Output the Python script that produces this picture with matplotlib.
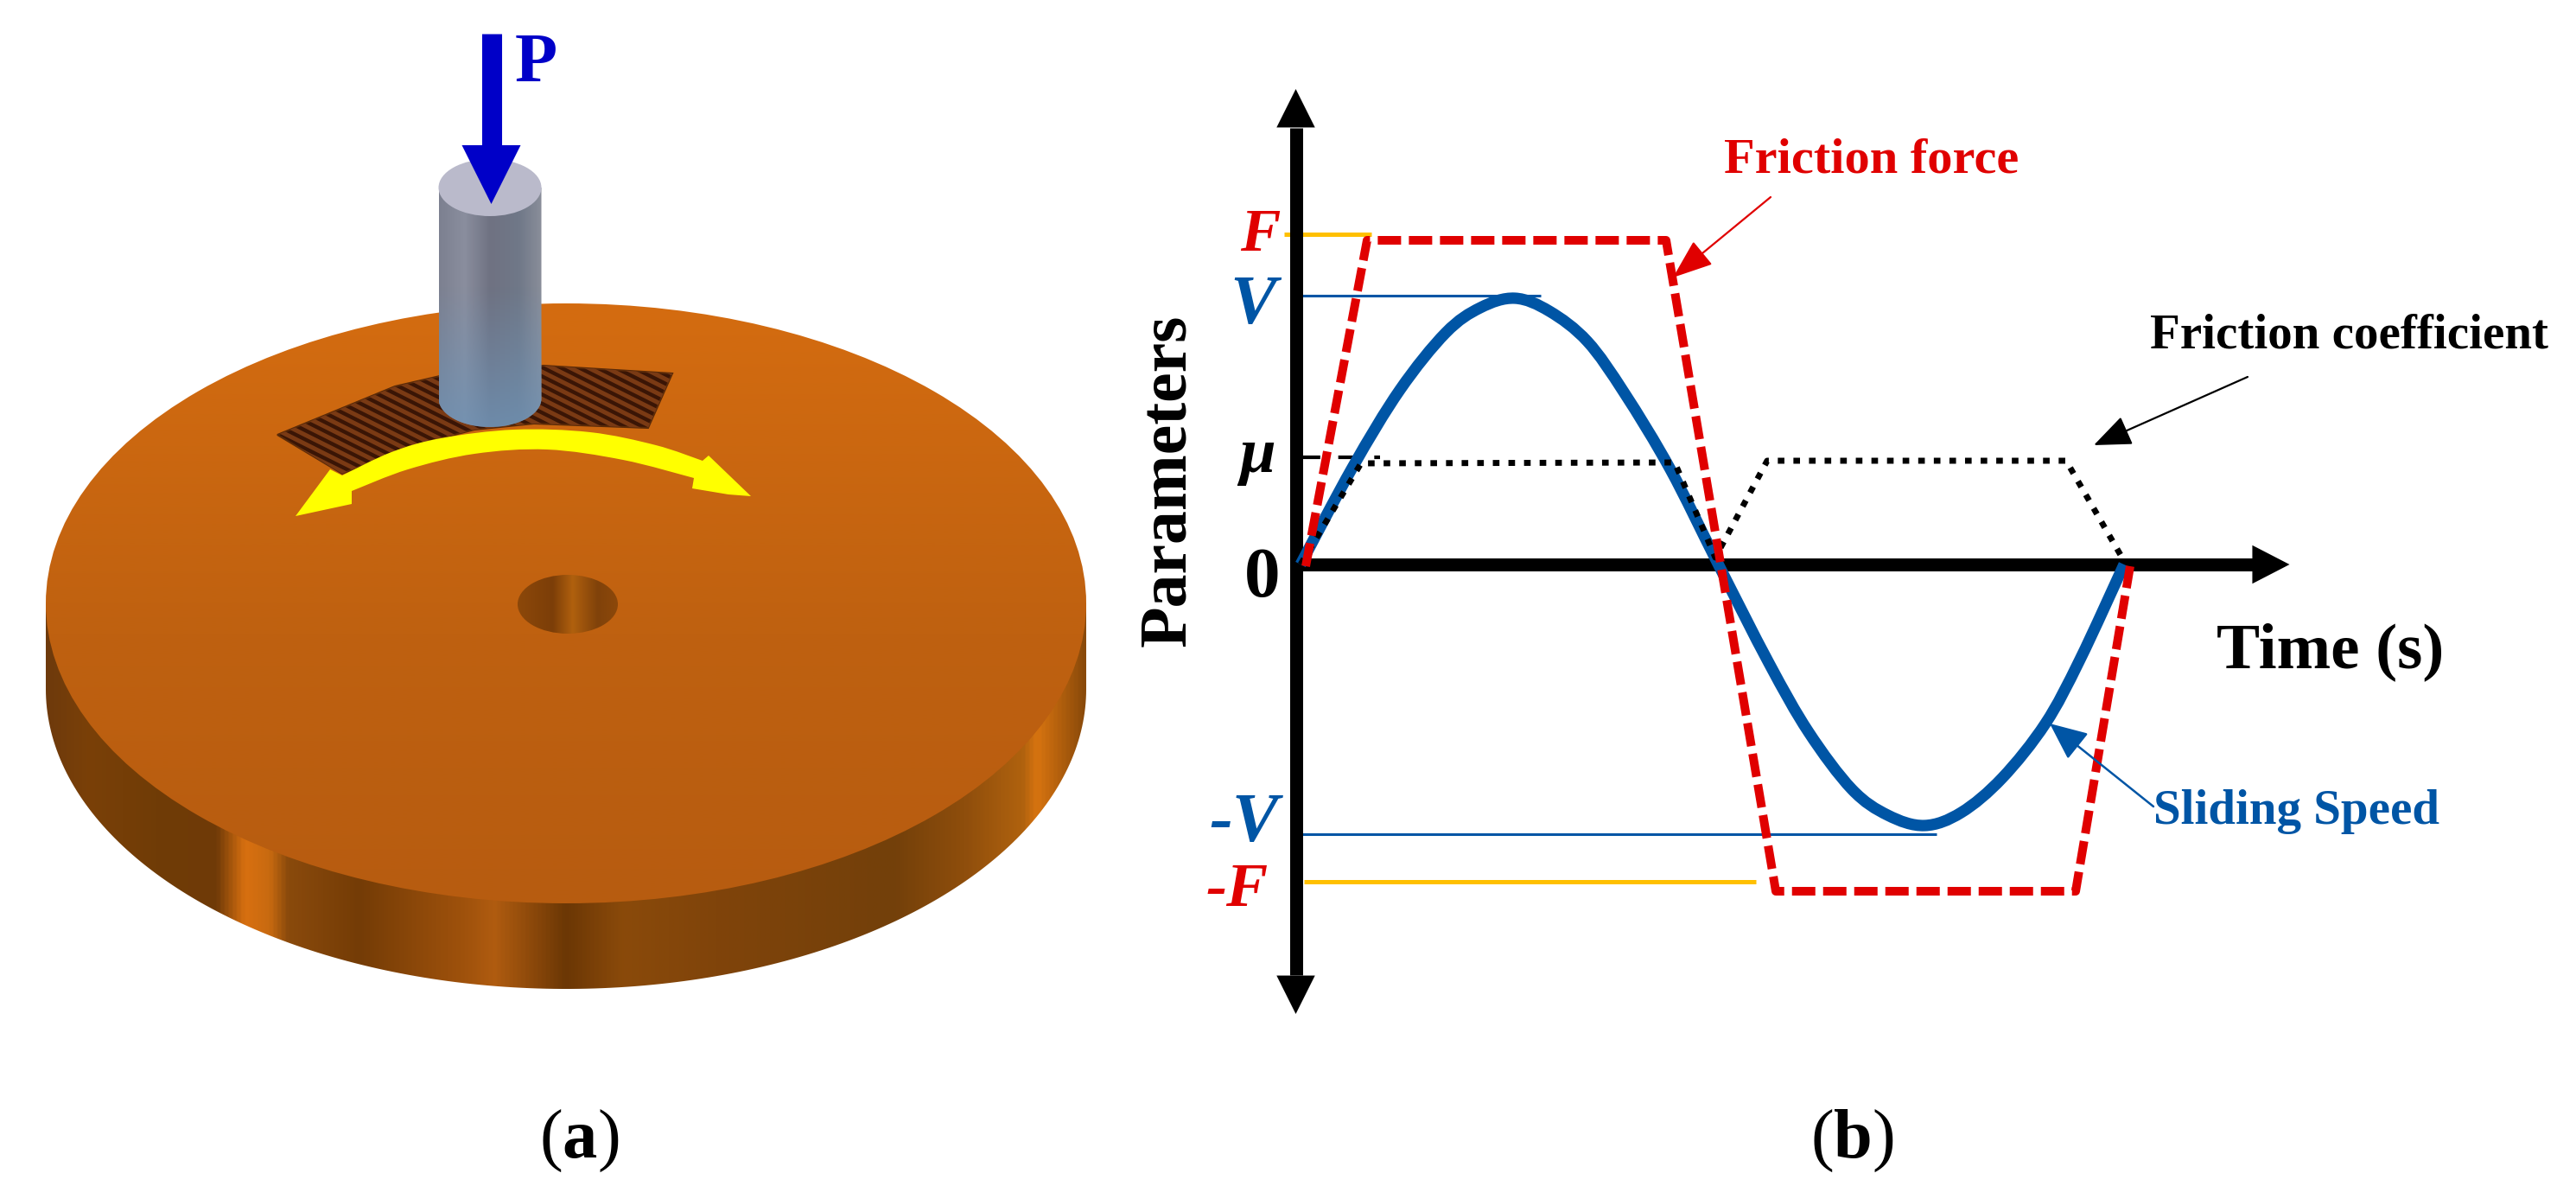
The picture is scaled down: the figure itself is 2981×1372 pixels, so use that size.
#!/usr/bin/env python3

import numpy as np
import matplotlib
matplotlib.use("Agg")
import matplotlib.pyplot as plt
from matplotlib.colors import LinearSegmentedColormap
from matplotlib.patches import Ellipse, PathPatch, Polygon
from matplotlib.path import Path

W, H = 2981, 1372
SPLIT = 1270

# panel (b); time and parameter in plot units
speed_t = [0.055, 0.655, 1.205, 1.735, 2.135, 2.535, 2.935, 3.375, 3.805, 4.335, 4.875,
           5.475, 5.935, 6.435, 6.85, 7.275, 7.70, 8.175, 8.675, 9.075, 9.585]
speed_v = [0.0, 1.12, 2.02, 2.68, 2.97, 3.08, 2.93, 2.58, 1.98, 1.10, 0.03,
           -1.14, -1.94, -2.60, -2.90, -3.02, -2.87, -2.47, -1.84, -1.10, 0.0]
force_t = [0.115, 0.825, 4.285, 5.555, 9.025, 9.655]
force_v = [-0.02, 3.75, 3.75, -3.78, -3.78, -0.02]
coef_t = [0.055, 0.755, 4.385, 4.855, 5.455, 8.915, 9.585]
coef_v = [0.0, 1.17, 1.18, 0.08, 1.20, 1.20, 0.04]

# panel (a) outlines, in picture pixels
arc_x = [342, 382, 396, 453, 510, 595, 683, 759, 813, 820, 869, 843, 801, 803, 721, 633, 549, 472, 407, 407]
arc_y = [597, 543, 550, 523, 507, 497, 500, 515, 533, 527, 574, 572, 565, 553, 532, 520, 525, 543, 568, 583]
patch_x = [321, 457, 509, 629, 778, 750, 618, 549, 472, 396]
patch_y = [503, 447, 435, 423, 432, 495, 490, 497, 517, 548]

RED = "#E00000"
BLUE = "#0055A5"
ORANGE = "#FFC000"
PBLUE = "#0000C8"

plt.rcParams.update({
    "font.family": "Liberation Serif",
    "font.weight": "bold",
    "mathtext.fontset": "custom",
    "mathtext.rm": "Liberation Serif",
    "mathtext.bf": "Liberation Serif:bold",
    "mathtext.it": "Liberation Serif:italic",
})


def arrow(ax, tip, base, color, hl, hw, lw=0.0, z=6):
    ax.annotate("", xy=tip, xytext=base, zorder=z,
                arrowprops=dict(arrowstyle=f"-|>,head_length={hl},head_width={hw}",
                                color=color, lw=lw, mutation_scale=1,
                                shrinkA=0, shrinkB=0))


def bezier_run(x, y):
    # Catmull-Rom through the read points, as cubic Bezier control points
    p = np.c_[x, y].astype(float)
    verts = []
    for i in range(len(p) - 1):
        before = p[max(i - 1, 0)]
        after = p[min(i + 2, len(p) - 1)]
        verts += [p[i] + (p[i + 1] - before) / 6, p[i + 1] - (after - p[i]) / 6, p[i + 1]]
    return verts


def shaded(ax, stops, extent, clip, z, vertical=False):
    cmap = LinearSegmentedColormap.from_list("s", stops)
    grad = np.linspace(0, 1, 512)
    grad = grad[:, None] if vertical else grad[None, :]
    im = ax.imshow(grad, cmap=cmap, extent=extent, aspect="auto", zorder=z,
                   vmin=0, vmax=1, interpolation="bilinear")
    ax.add_patch(clip)
    clip.set_visible(False)
    im.set_clip_path(clip)
    return im


def side_stops(pairs, x0, x1):
    return [((x - x0) / (x1 - x0), c) for x, c in pairs]


def yellow_arc(ax):
    upper = bezier_run(arc_x[2:9], arc_y[2:9])
    lower = bezier_run(arc_x[13:19], arc_y[13:19])
    corners = list(zip(arc_x, arc_y))
    verts = corners[:3] + upper + corners[9:14] + lower + corners[19:] + [corners[0]]
    codes = ([Path.MOVETO] + [Path.LINETO] * 2 + [Path.CURVE4] * len(upper)
             + [Path.LINETO] * 5 + [Path.CURVE4] * len(lower)
             + [Path.LINETO] + [Path.CLOSEPOLY])
    ax.add_patch(PathPatch(Path(verts, codes), fc="#FFFF00", ec="none", zorder=5.5))


def panel_a(ax):
    ax.set_xlim(0, SPLIT)
    ax.set_ylim(H, 0)
    ax.axis("off")

    cx, cy, a, b = 655, 698, 602, 347
    drop = 99

    # disc rim
    th = np.linspace(0, np.pi, 200)
    rim_x = np.r_[cx + a * np.cos(th), cx - a, cx + a]
    rim_y = np.r_[cy + drop + b * np.sin(th), cy, cy]
    rim = [(53, "#6E3A0C"), (100, "#7A4008"), (180, "#703C06"), (249, "#6F3A08"),
           (282, "#D87010"), (311, "#C86A10"), (332, "#8A4A0C"), (415, "#743C06"),
           (539, "#A0520C"), (572, "#B05C10"), (655, "#6B3705"), (721, "#8A4A0A"),
           (829, "#80440A"), (1036, "#73400A"), (1119, "#8F4E0C"), (1186, "#B0620E"),
           (1202, "#D87410"), (1257, "#8A4A0A")]
    shaded(ax, side_stops(rim, 53, 1257), (53, 1257, 1150, 690),
           Polygon(np.c_[rim_x, rim_y], transform=ax.transData), 1)

    # disc top, lighter towards the upper right
    shaded(ax, [(0, "#D46C10"), (0.55, "#BF6110"), (1, "#B75C10")], (53, 1257, 1045, 351),
           Ellipse((cx, cy), 2 * a, 2 * b, transform=ax.transData), 2, vertical=True)

    # centre hole
    shaded(ax, [(0, "#8C480A"), (0.35, "#7C3E08"), (0.55, "#B0600E"), (0.8, "#80420A"), (1, "#8C480A")],
           (599, 715, 733, 665),
           Ellipse((657, 699), 116, 68, transform=ax.transData), 3)

    # textured track
    track = Polygon(np.c_[patch_x, patch_y], closed=True, fc="#3A1505", ec="#5A2A08",
                    lw=1.5, zorder=4)
    ax.add_patch(track)
    for x0 in np.arange(-200, 1000, 21):
        line, = ax.plot([x0, x0 + 600], [300, 600], color="#7A3A14", lw=3.6, zorder=5)
        line.set_clip_path(track)
    ax.set_xlim(0, SPLIT)
    ax.set_ylim(H, 0)

    # pin
    th = np.linspace(0, np.pi, 100)
    pin_x = np.r_[567 + 59.5 * np.cos(th), 507.5, 626.5]
    pin_y = np.r_[461 + 33 * np.sin(th), 217, 217]
    pin = [(0, "#7C8090"), (0.25, "#8A8E9E"), (0.5, "#6F7282"), (0.78, "#707888"), (1, "#8A8E9A")]
    shaded(ax, pin, (507.5, 626.5, 494, 217),
           Polygon(np.c_[pin_x, pin_y], transform=ax.transData), 6)
    low = LinearSegmentedColormap.from_list("low", [(0.43, 0.58, 0.72, 0), (0.43, 0.58, 0.72, 0.75)])
    im = ax.imshow(np.linspace(0, 1, 64)[:, None], cmap=low, extent=(507.5, 626.5, 494, 330),
                   aspect="auto", zorder=7)
    clip = Polygon(np.c_[pin_x, pin_y], transform=ax.transData, visible=False)
    ax.add_patch(clip)
    im.set_clip_path(clip)
    ax.add_patch(Ellipse((567, 217), 119, 66, fc="#BABACB", ec="none", zorder=8))
    ax.set_xlim(0, SPLIT)
    ax.set_ylim(H, 0)

    # load and sliding direction
    ax.plot([568.5, 568.5], [39, 175], color=PBLUE, lw=16.6, solid_capstyle="butt", zorder=9)
    arrow(ax, (568.5, 236), (568.5, 168), PBLUE, 49, 24.5, z=10)
    ax.text(620, 66, "P", color=PBLUE, fontsize=58, ha="center", va="center_baseline", zorder=10)
    yellow_arc(ax)

    ax.text(670, 1310, r"($\mathbf{a}$)", color="black", fontsize=58, fontweight="normal",
            ha="center", va="center_baseline")


def panel_b(ax):
    ax.set_xlim((SPLIT - 1499.5) / 100, (W - 1499.5) / 100)
    ax.set_ylim((653 - H) / 100, 653 / 100)
    ax.axis("off")

    # reference levels
    ax.plot([-0.135, 0.875], [3.82, 3.82], color=ORANGE, lw=3.6, zorder=1, solid_capstyle="butt")
    ax.plot([0.095, 5.325], [-3.67, -3.67], color=ORANGE, lw=3.6, zorder=1, solid_capstyle="butt")
    ax.plot([0.05, 2.835], [3.11, 3.11], color=BLUE, lw=2.2, zorder=1, solid_capstyle="butt")
    ax.plot([0.05, 7.415], [-3.12, -3.12], color=BLUE, lw=2.2, zorder=1, solid_capstyle="butt")
    ax.plot([0.075, 0.975], [1.24, 1.24], color="black", lw=3, zorder=1, linestyle=(0, (5, 5)))

    # axes
    ax.plot([0, 0], [-4.75, 5.05], color="black", lw=10.8, solid_capstyle="butt", zorder=2)
    ax.plot([0, 11.1], [0, 0], color="black", lw=10.8, solid_capstyle="butt", zorder=2)
    arrow(ax, (0, 5.5), (0, 5.05), "black", 32, 16, z=2)
    arrow(ax, (0, -5.2), (0, -4.75), "black", 32, 16, z=2)
    arrow(ax, (11.5, 0), (11.07, 0), "black", 31, 16, z=2)

    # curves
    curve = bezier_run(speed_t, speed_v)
    speed_path = Path([(speed_t[0], speed_v[0])] + curve, [Path.MOVETO] + [Path.CURVE4] * len(curve))
    ax.add_patch(PathPatch(speed_path, fc="none", ec=BLUE, lw=9.5, capstyle="butt", zorder=3))
    ax.plot(coef_t, coef_v, color="black", lw=5, linestyle=(0, (1.1, 1.5)), zorder=4)
    ax.plot(force_t, force_v, color=RED, lw=7.2, linestyle=(0, (2.7, 0.9)), zorder=5)

    # callouts
    arrow(ax, (4.365, 3.32), (5.495, 4.25), RED, 29, 11, lw=1.6)
    arrow(ax, (9.235, 1.38), (11.015, 2.17), "black", 27, 11, lw=1.6)
    arrow(ax, (8.725, -1.84), (9.925, -2.80), BLUE, 27, 12, lw=1.8)
    va = "center_baseline"
    ax.text(6.665, 4.74, "Friction force", color=RED, fontsize=42, ha="center", va=va)
    ax.text(12.185, 2.71, "Friction coefficient", color="black", fontsize=41, ha="center", va=va)
    ax.text(11.585, -2.80, "Sliding Speed", color=BLUE, fontsize=41, ha="center", va=va)
    ax.text(11.975, -0.93, "Time (s)", color="black", fontsize=54, ha="center", va=va)
    ax.text(-1.465, 0.97, "Parameters", color="black", fontsize=56, rotation=90, ha="center", va="center")

    # level names
    ax.text(-0.415, 3.88, "F", color=RED, fontsize=50, style="italic", ha="center", va=va)
    ax.text(-0.495, 3.07, "V", color=BLUE, fontsize=58, style="italic", ha="center", va=va)
    ax.text(-0.445, 1.25, "μ", color="black", fontsize=54, style="italic", ha="center", va="center")
    ax.text(-0.385, -0.08, "0", color="black", fontsize=60, ha="center", va=va)
    ax.text(-0.595, -2.92, "-V", color=BLUE, fontsize=58, style="italic", ha="center", va=va)
    ax.text(-0.675, -3.70, "-F", color=RED, fontsize=52, style="italic", ha="center", va=va)

    ax.text(6.435, -6.57, r"($\mathbf{b}$)", color="black", fontsize=58, fontweight="normal",
            ha="center", va=va)


def main():
    fig = plt.figure(figsize=(W / 100, H / 100), dpi=100, facecolor="white")
    ax_a = fig.add_axes([0, 0, SPLIT / W, 1])
    ax_b = fig.add_axes([SPLIT / W, 0, 1 - SPLIT / W, 1])
    panel_a(ax_a)
    panel_b(ax_b)
    fig.savefig("out.png", dpi=100, facecolor="white")
    plt.close(fig)


if __name__ == "__main__":
    main()
